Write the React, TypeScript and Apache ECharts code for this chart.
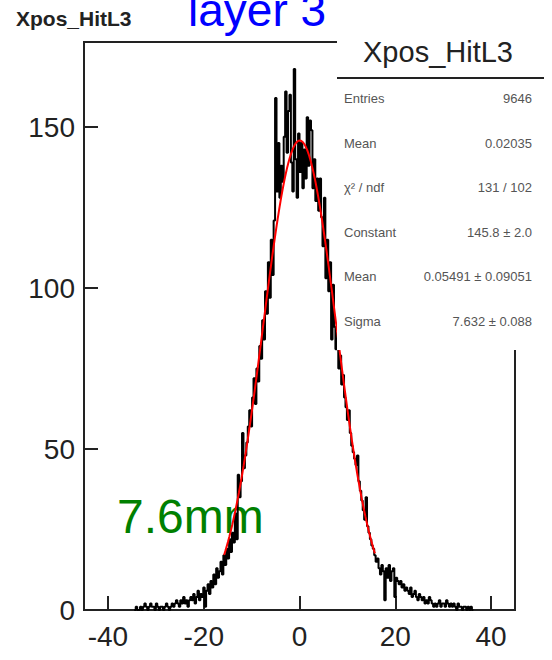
import React, { useEffect, useRef } from "react";
import * as echarts from "echarts";

// Histogram of hit x-position on layer 3, 0.3 mm bins, with a Gaussian fit.
const histTitle = "Xpos_HitL3";
const binStart = -34.5;
const binWidth = 0.3;
const counts = [
  0, 1, 0, 0, 1, 0, 1, 2, 1, 0,
  1, 2, 1, 1, 0, 2, 1, 0, 1, 1,
  0, 1, 2, 1, 0, 1, 2, 1, 2, 3,
  2, 1, 3, 2, 4, 2, 3, 1, 3, 4,
  3, 5, 2, 4, 6, 3, 5, 4, 7, 1,
  6, 8, 5, 9, 7, 11, 8, 13, 10, 12,
  15, 11, 17, 14, 19, 16, 22, 18, 24, 21,
  30, 22, 42, 35, 40, 55, 44, 48, 52, 57,
  62, 57, 66, 72, 64, 75, 71, 82, 78, 90,
  84, 99, 92, 108, 97, 115, 104, 121, 159, 130,
  145, 128, 138, 133, 147, 161, 142, 155, 160, 139,
  130, 168, 140, 128, 148, 136, 145, 131, 143, 134,
  153, 138, 152, 149, 131, 140, 127, 134, 124, 134,
  122, 113, 128, 103, 115, 99, 108, 84, 101, 88,
  81, 86, 75, 79, 70, 73, 66, 63, 59, 62,
  55, 51, 49, 47, 45, 48, 40, 37, 34, 31,
  28, 35, 26, 24, 22, 20, 19, 17, 15, 16,
  13, 11, 14, 12, 3, 13, 10, 14, 9, 12,
  13, 4, 10, 9, 8, 9, 7, 8, 6, 7,
  6, 5, 7, 4, 5, 6, 4, 3, 5, 4,
  3, 4, 2, 3, 2, 4, 3, 2, 1, 2,
  1, 2, 3, 1, 2, 2, 1, 3, 2, 1,
  2, 1, 2, 1, 0, 2, 1, 1, 0, 1,
  1, 0, 1, 0, 1, 0,
];

const xRange = [-45, 45];
const yMax = 176.4;
const xTicks = [-40, -20, 0, 20, 40];
const yTicks = [0, 50, 100, 150];

// Gaussian fit parameters and fitted range
const fitConstant = 145.8;
const fitMean = 0.05491;
const fitSigma = 7.632;
const fitRange = [-15.75, 15.75];

const statLabels = ["Entries", "Mean", "χ² / ndf", "Constant", "Mean", "Sigma"];
const statValues = ["9646", "0.02035", "131 / 102", "145.8 ± 2.0", "0.05491 ± 0.09051", "7.632 ± 0.088"];

const layerLabel = "layer 3";
const widthLabel = "7.6mm";

const FONT = "'Liberation Sans', Arial, Helvetica, sans-serif";

export default function App() {
  const ref = useRef<HTMLDivElement>(null);

  useEffect(() => {
    const chart = echarts.init(ref.current!, null, { renderer: "svg" });

    // step outline of the histogram
    const outline: number[][] = [[binStart, 0]];
    counts.forEach((c, i) => {
      const lo = binStart + i * binWidth;
      outline.push([lo, c], [lo + binWidth, c]);
    });
    outline.push([binStart + counts.length * binWidth, 0]);

    // fitted Gaussian over the fit range
    const fitLine: number[][] = [];
    const nSteps = 315;
    for (let k = 0; k <= nSteps; k++) {
      const x = fitRange[0] + ((fitRange[1] - fitRange[0]) * k) / nSteps;
      const z = (x - fitMean) / fitSigma;
      fitLine.push([x, fitConstant * Math.exp(-0.5 * z * z)]);
    }

    const statsX = 337;
    const statsRowTop = 100;
    const statsRowStep = 44.6;

    const statTexts: any[] = [];
    statLabels.forEach((lab, i) => {
      const y = statsRowTop + i * statsRowStep;
      statTexts.push({
        type: "text",
        left: 344,
        top: y - 8,
        z: 101,
        style: { text: lab, fontSize: 13, fontFamily: FONT, fill: "#555" },
      });
      statTexts.push({
        type: "text",
        right: 552 - 532,
        top: y - 8,
        z: 101,
        style: { text: statValues[i], fontSize: 13, fontFamily: FONT, fill: "#555", align: "right" },
      });
    });

    chart.setOption({
      animation: false,
      backgroundColor: "#ffffff",
      grid: {
        left: 84,
        top: 42,
        width: 431,
        height: 568,
        show: true,
        borderColor: "#222",
        borderWidth: 2,
        backgroundColor: "transparent",
      },
      xAxis: {
        type: "value",
        min: xRange[0],
        max: xRange[1],
        axisLine: { show: true, onZero: false, lineStyle: { color: "#222", width: 2 } },
        axisTick: { show: true, inside: true, length: 14, customValues: xTicks, lineStyle: { color: "#222", width: 2 } },
        axisLabel: { customValues: xTicks, fontSize: 28, fontFamily: FONT, color: "#222", margin: 12 },
        splitLine: { show: false },
      },
      yAxis: {
        type: "value",
        min: 0,
        max: yMax,
        axisLine: { show: true, onZero: false, lineStyle: { color: "#222", width: 2 } },
        axisTick: { show: true, inside: true, length: 14, customValues: yTicks, lineStyle: { color: "#222", width: 2 } },
        axisLabel: { customValues: yTicks, fontSize: 28, fontFamily: FONT, color: "#222", margin: 9 },
        splitLine: { show: false },
      },
      series: [
        {
          type: "line",
          data: outline,
          showSymbol: false,
          lineStyle: { color: "#000", width: 2 },
          z: 3,
        },
        {
          type: "line",
          data: fitLine,
          showSymbol: false,
          smooth: false,
          lineStyle: { color: "#ff0000", width: 2 },
          z: 4,
        },
      ],
      graphic: [
        {
          type: "text",
          left: 16,
          top: 8,
          z: 1,
          style: { text: histTitle, fontSize: 21, fontWeight: "bold", fontFamily: FONT, fill: "#222" },
        },
        {
          type: "text",
          x: 188,
          y: 10,
          z: 1,
          style: { text: layerLabel, fontSize: 46, fontFamily: FONT, fill: "#0000ff", verticalAlign: "middle" },
        },
        {
          type: "text",
          x: 117,
          y: 516,
          z: 1,
          style: { text: widthLabel, fontSize: 48, fontFamily: FONT, fill: "#008000", verticalAlign: "middle" },
        },
        // statistics box
        {
          type: "rect",
          shape: { x: statsX, y: 26, width: 552 - statsX, height: 350 - 26 },
          z: 100,
          style: { fill: "#ffffff" },
        },
        {
          type: "text",
          x: 438,
          y: 52,
          z: 101,
          style: { text: histTitle, fontSize: 29, fontFamily: FONT, fill: "#222", align: "center", verticalAlign: "middle" },
        },
        {
          type: "line",
          shape: { x1: statsX, y1: 78, x2: 544, y2: 78 },
          z: 101,
          style: { stroke: "#222", lineWidth: 2 },
        },
        ...statTexts,
      ],
    });

    return () => chart.dispose();
  }, []);

  return (
    <div
      ref={ref}
      style={{ position: "fixed", left: 0, top: 0, width: 552, height: 660, background: "#fff" }}
    />
  );
}
